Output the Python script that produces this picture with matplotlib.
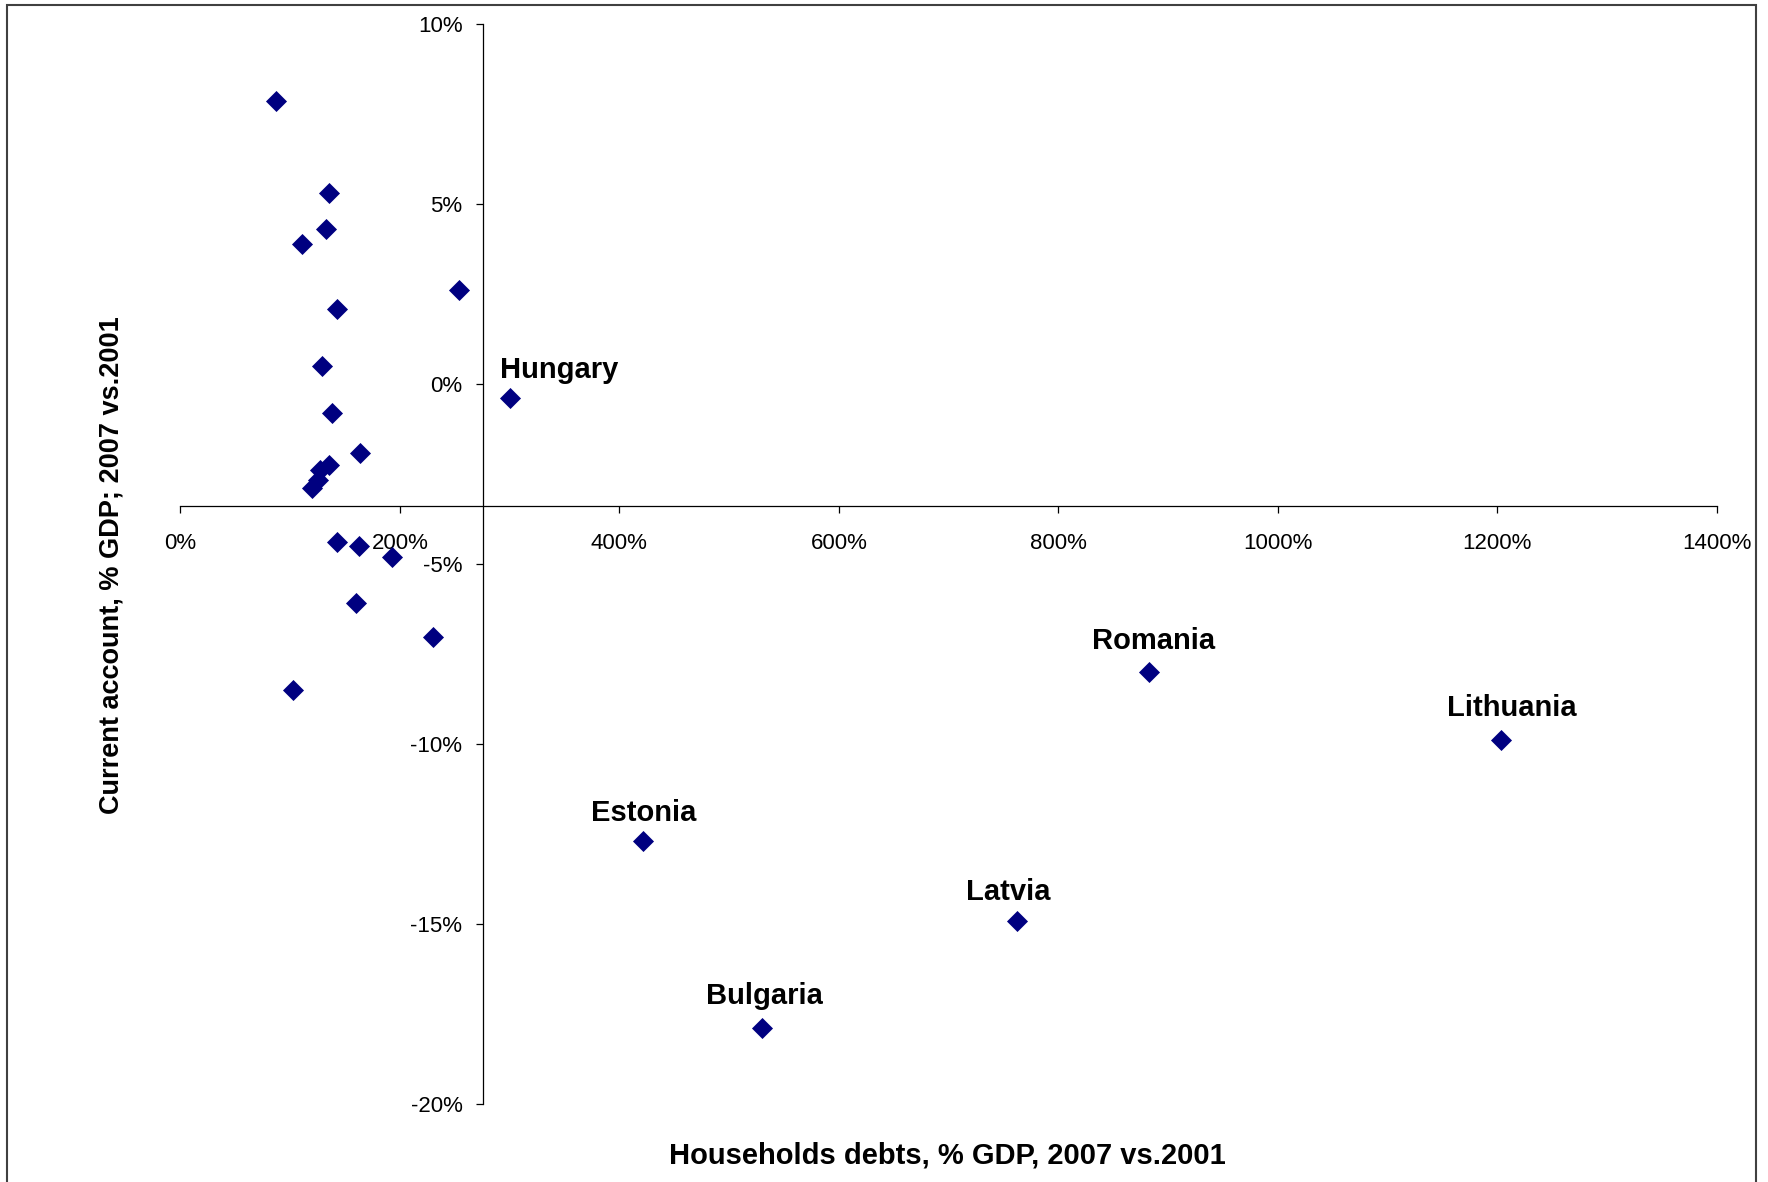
import matplotlib
matplotlib.use("Agg")
import matplotlib.pyplot as plt
from matplotlib.patches import Rectangle
from matplotlib.ticker import FuncFormatter

plt.rcParams['font.family'] = ['Liberation Sans', 'DejaVu Sans']

# unlabeled countries
debt_other = [87, 135, 132.5, 111, 254, 143, 129, 138, 164, 135, 127, 125, 120,
              143, 163, 193, 160, 230, 103]
ca_other = [7.87, 5.3, 4.3, 3.88, 2.6, 2.09, 0.49, -0.8, -1.93, -2.26, -2.38,
            -2.68, -2.9, -4.38, -4.49, -4.8, -6.09, -7.03, -8.5]

# labeled countries
names = ["Hungary", "Romania", "Lithuania", "Estonia", "Latvia", "Bulgaria"]
debt_named = [300, 883, 1203, 422, 762, 530]
ca_named = [-0.39, -8.0, -9.88, -12.7, -14.92, -17.88]

# where the axes cross each other
x_cross = 276
y_cross = -3.4

# label offsets in points
label_offsets = {
    "Hungary": (35.7, 14.5),
    "Romania": (3, 16.3),
    "Lithuania": (8, 17),
    "Estonia": (0, 14.5),
    "Latvia": (-6, 15.5),
    "Bulgaria": (1.5, 17),
}

fig = plt.figure(figsize=(17.68, 11.82), dpi=100)
ax = fig.add_axes([180.4 / 1768, 78 / 1182, 1536.3 / 1768, 1080 / 1182])

navy = '#000080'
ax.scatter(debt_other + debt_named, ca_other + ca_named, marker='D', s=115,
           color=navy, linewidths=0, zorder=3, clip_on=False)

for name, x, y in zip(names, debt_named, ca_named):
    dx, dy = label_offsets[name]
    ax.annotate(name, (x, y), xytext=(dx, dy), textcoords='offset points',
                ha='center', va='baseline', fontsize=21, fontweight='bold')

ax.set_xlim(0, 1400)
ax.set_ylim(-20, 10)
ax.set_xticks(range(0, 1401, 200))
ax.set_yticks(range(-20, 11, 5))
pct = FuncFormatter(lambda v, p: f"{v:.0f}%")
ax.xaxis.set_major_formatter(pct)
ax.yaxis.set_major_formatter(pct)

ax.spines['left'].set_position(('data', x_cross))
ax.spines['bottom'].set_position(('data', y_cross))
ax.spines['top'].set_visible(False)
ax.spines['right'].set_visible(False)
for s in ('left', 'bottom'):
    ax.spines[s].set_linewidth(0.9)
ax.tick_params(axis='both', direction='out', length=5, width=0.9,
               labelsize=16, pad=10)
ax.tick_params(axis='x', pad=14)
ax.patch.set_alpha(0)

fig.text(947 / 1768, 1 - 1155 / 1182, "Households debts, % GDP, 2007 vs.2001",
         ha='center', va='center', fontsize=21, fontweight='bold')
fig.text(112 / 1768, 1 - 565 / 1182, "Current account, % GDP; 2007 vs.2001",
         ha='center', va='center', rotation=90, fontsize=19.5, fontweight='bold')

# outer chart border
fig.patches.append(Rectangle((7 / 1768, -0.01), 1749 / 1768, 1.01 - 5 / 1182,
                             transform=fig.transFigure, fill=False,
                             edgecolor='#404040', linewidth=1.5))

fig.savefig("out.png", dpi=100)
